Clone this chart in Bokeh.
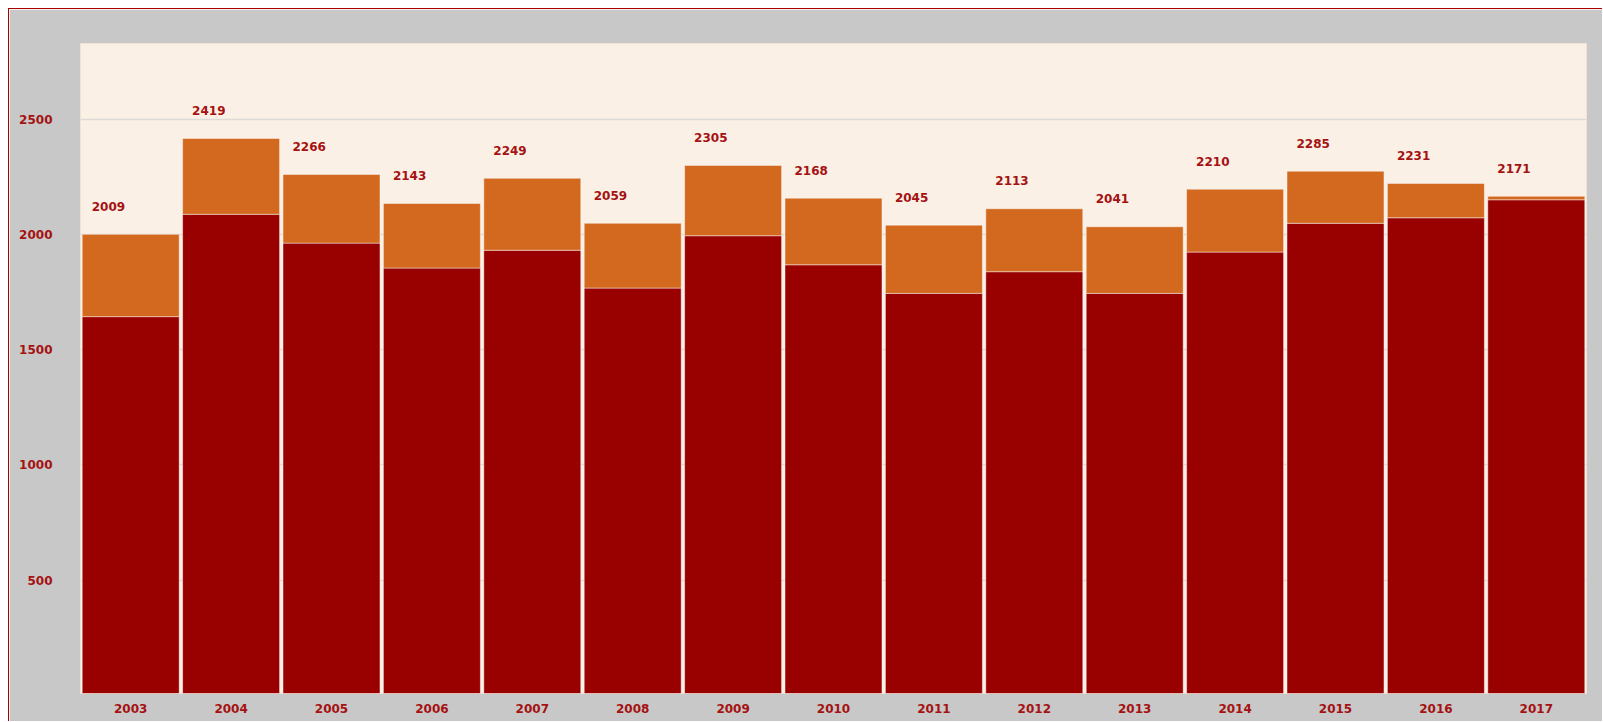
from bokeh.plotting import figure
from bokeh.models import ColumnDataSource, FactorRange, Range1d, FixedTicker
from bokeh.core.properties import value
from bokeh.embed import file_html
from bokeh.resources import INLINE

years = ["2003", "2004", "2005", "2006", "2007", "2008", "2009", "2010",
         "2011", "2012", "2013", "2014", "2015", "2016", "2017"]
dark = [1643, 2087, 1962, 1854, 1931, 1767, 1994, 1868,
        1744, 1838, 1744, 1923, 2048, 2072, 2150]
orange = [357, 329, 298, 280, 312, 281, 305, 289,
          296, 273, 289, 273, 226, 149, 15]
totals = [2009, 2419, 2266, 2143, 2249, 2059, 2305, 2168,
          2045, 2113, 2041, 2210, 2285, 2231, 2171]
y_ticks = [500, 1000, 1500, 2000, 2500]

tops = [d + o for d, o in zip(dark, orange)]
src = ColumnDataSource(dict(year=years, dark=dark, orange=orange,
                            top=tops, label=[str(t) for t in totals]))

TXT = "#a51212"
FONT = value("DejaVu Sans")

p = figure(x_range=FactorRange(*years), y_range=Range1d(8, 2828),
           width=1594, height=713, output_backend="svg", toolbar_location=None,
           min_border_left=71, min_border_right=17, min_border_top=34, min_border_bottom=29)
p.styles = {"border-left": "1px solid #aa0000", "border-top": "1px solid #aa0000",
            "margin-left": "8px", "margin-top": "8px"}
p.border_fill_color = "#c8c8c8"
p.background_fill_color = "#faf0e6"
p.outline_line_color = "#efe3d7"

p.vbar_stack(["dark", "orange"], x="year", width=0.966, source=src,
             color=["#990000", "#d2691e"], line_color="white", line_alpha=0.45,
             line_width=1)

p.text(x="year", y="top", text="label", source=src, x_offset=-39, y_offset=-28,
       text_align="left", text_baseline="middle", text_color=TXT,
       text_font=FONT, text_font_size="12px", text_font_style="bold")

p.xgrid.grid_line_color = None
p.ygrid.grid_line_color = "#dedad6"
p.ygrid.grid_line_width = 1.5
p.yaxis.ticker = FixedTicker(ticks=y_ticks)

for ax in (p.xaxis[0], p.yaxis[0]):
    ax.axis_line_color = None
    ax.major_tick_line_color = None
    ax.minor_tick_line_color = None
    ax.major_tick_out = 0
    ax.major_tick_in = 0
    ax.minor_tick_out = 0
    ax.major_label_text_color = TXT
    ax.major_label_text_font = "DejaVu Sans"
    ax.major_label_text_font_size = "12px"
    ax.major_label_text_font_style = "bold"

p.yaxis.major_label_standoff = 28
p.xaxis.major_label_standoff = 10

open("out.html", "w").write(file_html(p, INLINE))
